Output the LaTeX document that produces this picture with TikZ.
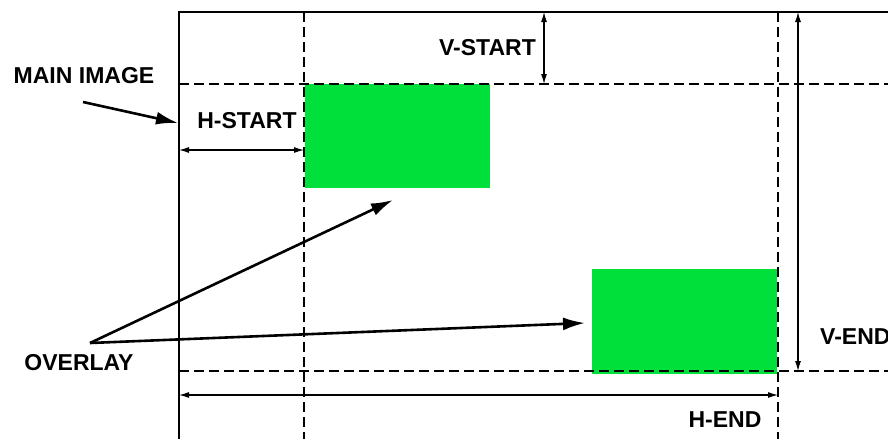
\documentclass[tikz,border=0pt]{standalone}
\usepackage{fontspec}
\setmainfont{Liberation Sans}
\usetikzlibrary{arrows.meta}
\definecolor{ovgreen}{RGB}{0,224,58}
\begin{document}
\begin{tikzpicture}[x=1pt,y=-1pt,
  lbl/.style={font=\fontsize{23}{25}\selectfont\bfseries, inner sep=0pt},
  frame/.style={line width=2.6pt},
  dline/.style={line width=2.6pt, dash pattern=on 10pt off 5pt},
  dim/.style={line width=1.1pt, {Latex[length=10pt,width=6pt]}-{Latex[length=10pt,width=6pt]}},
  pointer/.style={line width=2.6pt, -{Latex[length=22pt,width=13pt]}},
  ovbox/.style={fill=ovgreen, draw=none, inner sep=0pt, anchor=north west}]
\useasboundingbox (0,0) rectangle (888,439);
\clip (0,0) rectangle (888,439);
% overlays
\node[ovbox, minimum width=185pt, minimum height=104pt] (ov1) at (305,84) {};
\node[ovbox, minimum width=185pt, minimum height=105pt] (ov2) at (592,269) {};
% frame coordinates
\coordinate (tl) at (179,12);
\coordinate (tr) at (888,12);
\coordinate (bl) at (179,439);
\coordinate (vs1t) at (304,12);
\coordinate (vs1b) at (304,439);
\coordinate (vs2t) at (778,12);
\coordinate (vs2b) at (778,439);
\coordinate (h1l) at (179,84);
\coordinate (h1r) at (888,84);
\coordinate (h2l) at (179,371);
\coordinate (h2r) at (888,371);
\draw[frame] (bl) -- (tl) -- (tr);
\draw[dline] (vs1t) -- (vs1b);
\draw[dline] (vs2t) -- (vs2b);
\draw[dline] (h1l) -- (h1r);
\draw[dline] (h2l) -- (h2r);
% dimension arrows
\coordinate (hsA) at (179,150);
\coordinate (hsB) at (304,150);
\draw[dim] (hsA) -- (hsB);
\coordinate (vsA) at (544,12);
\coordinate (vsB) at (544,84);
\draw[dim] (vsA) -- (vsB);
\coordinate (veA) at (798,12);
\coordinate (veB) at (798,371);
\draw[dim] (veA) -- (veB);
\coordinate (heA) at (179,395);
\coordinate (heB) at (778,395);
\draw[dim] (heA) -- (heB);
% labels
\node[lbl] (main) at (84,76) {MAIN IMAGE};
\node[lbl] (hstart) at (247,121) {H-START};
\node[lbl, anchor=east] (vstart) at (536,48) {V-START};
\node[lbl, anchor=west] (vend) at (820,337) {V-END};
\node[lbl] (hend) at (725,420) {H-END};
\node[lbl] (overlay) at (79,363) {OVERLAY};
% pointers
\coordinate (mainTail) at (83,102);
\coordinate (mainTip) at (178,123);
\draw[pointer] (mainTail) -- (mainTip);
\coordinate (apex) at (90,343);
\coordinate (ovTip1) at (393,200);
\coordinate (ovTip2) at (585,323);
\draw[pointer] (apex) -- (ovTip1);
\draw[pointer] (apex) -- (ovTip2);
\end{tikzpicture}
\end{document}
